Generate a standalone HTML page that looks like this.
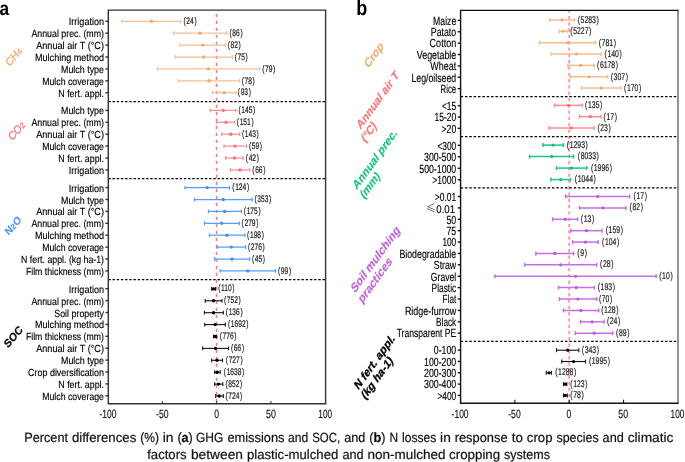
<!DOCTYPE html>
<html lang="en">
<head>
<meta charset="utf-8">
<title>Figure</title>
<style>
html,body{margin:0;padding:0;background:#fff;}
body{width:685px;height:462px;overflow:hidden;}
svg{display:block;}
text{font-family:"Liberation Sans",sans-serif;text-rendering:geometricPrecision;}
</style>
</head>
<body>
<svg width="685" height="462" viewBox="0 0 685 462" font-family='"Liberation Sans", sans-serif'>
<rect width="685" height="462" fill="#fff"/>
<line x1="216.6" y1="10.1" x2="216.6" y2="403.8" stroke="#ff7886" stroke-width="1.6" stroke-dasharray="3.4 3.6" stroke-dashoffset="3.4"/>
<line x1="108.3" y1="101.5" x2="325.6" y2="101.5" stroke="#000" stroke-width="1.25" stroke-dasharray="2.4 1.8"/>
<line x1="108.3" y1="178.6" x2="325.6" y2="178.6" stroke="#000" stroke-width="1.25" stroke-dasharray="2.4 1.8"/>
<line x1="108.3" y1="279.6" x2="325.6" y2="279.6" stroke="#000" stroke-width="1.25" stroke-dasharray="2.4 1.8"/>
<g stroke="#f7be90" stroke-width="1.25" fill="none"><line x1="122" y1="21.3" x2="180.9" y2="21.3"/><line x1="122" y1="19.400000000000002" x2="122" y2="23.2"/><line x1="180.9" y1="19.400000000000002" x2="180.9" y2="23.2"/></g>
<circle cx="151.4" cy="21.3" r="1.7" fill="#f3ab6b"/>
<text transform="translate(183.5,24.05) scale(0.7,1)" font-size="9.5" fill="#1a1a1a" stroke="#1a1a1a" stroke-width="0.2">(<tspan dx="0.9">24</tspan><tspan dx="0.9">)</tspan></text>
<g stroke="#f7be90" stroke-width="1.25" fill="none"><line x1="173.5" y1="33.2" x2="227" y2="33.2"/><line x1="173.5" y1="31.300000000000004" x2="173.5" y2="35.1"/><line x1="227" y1="31.300000000000004" x2="227" y2="35.1"/></g>
<circle cx="200" cy="33.2" r="1.7" fill="#f3ab6b"/>
<text transform="translate(229.5,35.95) scale(0.7,1)" font-size="9.5" fill="#1a1a1a" stroke="#1a1a1a" stroke-width="0.2">(<tspan dx="0.9">86</tspan><tspan dx="0.9">)</tspan></text>
<g stroke="#f7be90" stroke-width="1.25" fill="none"><line x1="180" y1="45.1" x2="225.5" y2="45.1"/><line x1="180" y1="43.2" x2="180" y2="47.0"/><line x1="225.5" y1="43.2" x2="225.5" y2="47.0"/></g>
<circle cx="202.8" cy="45.1" r="1.7" fill="#f3ab6b"/>
<text transform="translate(227.7,47.85) scale(0.7,1)" font-size="9.5" fill="#1a1a1a" stroke="#1a1a1a" stroke-width="0.2">(<tspan dx="0.9">82</tspan><tspan dx="0.9">)</tspan></text>
<g stroke="#f7be90" stroke-width="1.25" fill="none"><line x1="175" y1="57.0" x2="232.5" y2="57.0"/><line x1="175" y1="55.1" x2="175" y2="58.9"/><line x1="232.5" y1="55.1" x2="232.5" y2="58.9"/></g>
<circle cx="203.7" cy="57.0" r="1.7" fill="#f3ab6b"/>
<text transform="translate(234.7,59.75) scale(0.7,1)" font-size="9.5" fill="#1a1a1a" stroke="#1a1a1a" stroke-width="0.2">(<tspan dx="0.9">75</tspan><tspan dx="0.9">)</tspan></text>
<g stroke="#f7be90" stroke-width="1.25" fill="none"><line x1="157.5" y1="68.9" x2="259.7" y2="68.9"/><line x1="157.5" y1="67.0" x2="157.5" y2="70.80000000000001"/><line x1="259.7" y1="67.0" x2="259.7" y2="70.80000000000001"/></g>
<circle cx="208.5" cy="68.9" r="1.7" fill="#f3ab6b"/>
<text transform="translate(262.2,71.65) scale(0.7,1)" font-size="9.5" fill="#1a1a1a" stroke="#1a1a1a" stroke-width="0.2">(<tspan dx="0.9">79</tspan><tspan dx="0.9">)</tspan></text>
<g stroke="#f7be90" stroke-width="1.25" fill="none"><line x1="178.3" y1="80.8" x2="239.5" y2="80.8"/><line x1="178.3" y1="78.89999999999999" x2="178.3" y2="82.7"/><line x1="239.5" y1="78.89999999999999" x2="239.5" y2="82.7"/></g>
<circle cx="209" cy="80.8" r="1.7" fill="#f3ab6b"/>
<text transform="translate(241.7,83.55) scale(0.7,1)" font-size="9.5" fill="#1a1a1a" stroke="#1a1a1a" stroke-width="0.2">(<tspan dx="0.9">78</tspan><tspan dx="0.9">)</tspan></text>
<g stroke="#f7be90" stroke-width="1.25" fill="none"><line x1="212.3" y1="92.7" x2="236.2" y2="92.7"/><line x1="212.3" y1="90.8" x2="212.3" y2="94.60000000000001"/><line x1="236.2" y1="90.8" x2="236.2" y2="94.60000000000001"/></g>
<circle cx="224.2" cy="92.7" r="1.7" fill="#f3ab6b"/>
<text transform="translate(237.8,95.45) scale(0.7,1)" font-size="9.5" fill="#1a1a1a" stroke="#1a1a1a" stroke-width="0.2">(<tspan dx="0.9">93</tspan><tspan dx="0.9">)</tspan></text>
<g stroke="#ff8f8f" stroke-width="1.25" fill="none"><line x1="210.4" y1="110.4" x2="235.8" y2="110.4"/><line x1="210.4" y1="108.5" x2="210.4" y2="112.30000000000001"/><line x1="235.8" y1="108.5" x2="235.8" y2="112.30000000000001"/></g>
<circle cx="223.2" cy="110.4" r="1.7" fill="#ff7070"/>
<text transform="translate(238.5,113.15) scale(0.7,1)" font-size="9.5" fill="#1a1a1a" stroke="#1a1a1a" stroke-width="0.2">(<tspan dx="0.9">145</tspan><tspan dx="0.9">)</tspan></text>
<g stroke="#ff8f8f" stroke-width="1.25" fill="none"><line x1="216.7" y1="122.3" x2="234.8" y2="122.3"/><line x1="216.7" y1="120.39999999999999" x2="216.7" y2="124.2"/><line x1="234.8" y1="120.39999999999999" x2="234.8" y2="124.2"/></g>
<circle cx="226" cy="122.3" r="1.7" fill="#ff7070"/>
<text transform="translate(236.8,125.05) scale(0.7,1)" font-size="9.5" fill="#1a1a1a" stroke="#1a1a1a" stroke-width="0.2">(<tspan dx="0.9">151</tspan><tspan dx="0.9">)</tspan></text>
<g stroke="#ff8f8f" stroke-width="1.25" fill="none"><line x1="221.7" y1="134.2" x2="239.8" y2="134.2"/><line x1="221.7" y1="132.29999999999998" x2="221.7" y2="136.1"/><line x1="239.8" y1="132.29999999999998" x2="239.8" y2="136.1"/></g>
<circle cx="230.8" cy="134.2" r="1.7" fill="#ff7070"/>
<text transform="translate(242,136.95) scale(0.7,1)" font-size="9.5" fill="#1a1a1a" stroke="#1a1a1a" stroke-width="0.2">(<tspan dx="0.9">143</tspan><tspan dx="0.9">)</tspan></text>
<g stroke="#ff8f8f" stroke-width="1.25" fill="none"><line x1="224" y1="146.1" x2="246.6" y2="146.1"/><line x1="224" y1="144.2" x2="224" y2="148.0"/><line x1="246.6" y1="144.2" x2="246.6" y2="148.0"/></g>
<circle cx="235" cy="146.1" r="1.7" fill="#ff7070"/>
<text transform="translate(248.9,148.85) scale(0.7,1)" font-size="9.5" fill="#1a1a1a" stroke="#1a1a1a" stroke-width="0.2">(<tspan dx="0.9">59</tspan><tspan dx="0.9">)</tspan></text>
<g stroke="#ff8f8f" stroke-width="1.25" fill="none"><line x1="225.7" y1="158.0" x2="243.3" y2="158.0"/><line x1="225.7" y1="156.1" x2="225.7" y2="159.9"/><line x1="243.3" y1="156.1" x2="243.3" y2="159.9"/></g>
<circle cx="234.5" cy="158.0" r="1.7" fill="#ff7070"/>
<text transform="translate(245.8,160.75) scale(0.7,1)" font-size="9.5" fill="#1a1a1a" stroke="#1a1a1a" stroke-width="0.2">(<tspan dx="0.9">42</tspan><tspan dx="0.9">)</tspan></text>
<g stroke="#ff8f8f" stroke-width="1.25" fill="none"><line x1="230.5" y1="169.9" x2="249.8" y2="169.9"/><line x1="230.5" y1="168.0" x2="230.5" y2="171.8"/><line x1="249.8" y1="168.0" x2="249.8" y2="171.8"/></g>
<circle cx="240" cy="169.9" r="1.7" fill="#ff7070"/>
<text transform="translate(252.3,172.65) scale(0.7,1)" font-size="9.5" fill="#1a1a1a" stroke="#1a1a1a" stroke-width="0.2">(<tspan dx="0.9">66</tspan><tspan dx="0.9">)</tspan></text>
<g stroke="#559df8" stroke-width="1.25" fill="none"><line x1="185" y1="187.6" x2="229.5" y2="187.6"/><line x1="185" y1="185.7" x2="185" y2="189.5"/><line x1="229.5" y1="185.7" x2="229.5" y2="189.5"/></g>
<circle cx="207.2" cy="187.6" r="1.7" fill="#3f8ff6"/>
<text transform="translate(232.3,190.35) scale(0.7,1)" font-size="9.5" fill="#1a1a1a" stroke="#1a1a1a" stroke-width="0.2">(<tspan dx="0.9">124</tspan><tspan dx="0.9">)</tspan></text>
<g stroke="#559df8" stroke-width="1.25" fill="none"><line x1="194.6" y1="199.5" x2="252.1" y2="199.5"/><line x1="194.6" y1="197.6" x2="194.6" y2="201.4"/><line x1="252.1" y1="197.6" x2="252.1" y2="201.4"/></g>
<circle cx="223.2" cy="199.5" r="1.7" fill="#3f8ff6"/>
<text transform="translate(254.4,202.25) scale(0.7,1)" font-size="9.5" fill="#1a1a1a" stroke="#1a1a1a" stroke-width="0.2">(<tspan dx="0.9">353</tspan><tspan dx="0.9">)</tspan></text>
<g stroke="#559df8" stroke-width="1.25" fill="none"><line x1="208.4" y1="211.4" x2="241.3" y2="211.4"/><line x1="208.4" y1="209.5" x2="208.4" y2="213.3"/><line x1="241.3" y1="209.5" x2="241.3" y2="213.3"/></g>
<circle cx="224.7" cy="211.4" r="1.7" fill="#3f8ff6"/>
<text transform="translate(243.8,214.15) scale(0.7,1)" font-size="9.5" fill="#1a1a1a" stroke="#1a1a1a" stroke-width="0.2">(<tspan dx="0.9">175</tspan><tspan dx="0.9">)</tspan></text>
<g stroke="#559df8" stroke-width="1.25" fill="none"><line x1="204.4" y1="223.3" x2="239.3" y2="223.3"/><line x1="204.4" y1="221.4" x2="204.4" y2="225.20000000000002"/><line x1="239.3" y1="221.4" x2="239.3" y2="225.20000000000002"/></g>
<circle cx="221.7" cy="223.3" r="1.7" fill="#3f8ff6"/>
<text transform="translate(241.6,226.05) scale(0.7,1)" font-size="9.5" fill="#1a1a1a" stroke="#1a1a1a" stroke-width="0.2">(<tspan dx="0.9">279</tspan><tspan dx="0.9">)</tspan></text>
<g stroke="#559df8" stroke-width="1.25" fill="none"><line x1="209.4" y1="235.2" x2="244.9" y2="235.2"/><line x1="209.4" y1="233.29999999999998" x2="209.4" y2="237.1"/><line x1="244.9" y1="233.29999999999998" x2="244.9" y2="237.1"/></g>
<circle cx="227" cy="235.2" r="1.7" fill="#3f8ff6"/>
<text transform="translate(247.1,237.95) scale(0.7,1)" font-size="9.5" fill="#1a1a1a" stroke="#1a1a1a" stroke-width="0.2">(<tspan dx="0.9">198</tspan><tspan dx="0.9">)</tspan></text>
<g stroke="#559df8" stroke-width="1.25" fill="none"><line x1="217.2" y1="247.1" x2="245.6" y2="247.1"/><line x1="217.2" y1="245.2" x2="217.2" y2="249.0"/><line x1="245.6" y1="245.2" x2="245.6" y2="249.0"/></g>
<circle cx="231.3" cy="247.1" r="1.7" fill="#3f8ff6"/>
<text transform="translate(247.9,249.85) scale(0.7,1)" font-size="9.5" fill="#1a1a1a" stroke="#1a1a1a" stroke-width="0.2">(<tspan dx="0.9">276</tspan><tspan dx="0.9">)</tspan></text>
<g stroke="#559df8" stroke-width="1.25" fill="none"><line x1="214.7" y1="259.0" x2="249.6" y2="259.0"/><line x1="214.7" y1="257.1" x2="214.7" y2="260.9"/><line x1="249.6" y1="257.1" x2="249.6" y2="260.9"/></g>
<circle cx="232" cy="259.0" r="1.7" fill="#3f8ff6"/>
<text transform="translate(251.9,261.75) scale(0.7,1)" font-size="9.5" fill="#1a1a1a" stroke="#1a1a1a" stroke-width="0.2">(<tspan dx="0.9">45</tspan><tspan dx="0.9">)</tspan></text>
<g stroke="#559df8" stroke-width="1.25" fill="none"><line x1="220.2" y1="270.9" x2="275.5" y2="270.9"/><line x1="220.2" y1="269.0" x2="220.2" y2="272.79999999999995"/><line x1="275.5" y1="269.0" x2="275.5" y2="272.79999999999995"/></g>
<circle cx="247.9" cy="270.9" r="1.7" fill="#3f8ff6"/>
<text transform="translate(278,273.65) scale(0.7,1)" font-size="9.5" fill="#1a1a1a" stroke="#1a1a1a" stroke-width="0.2">(<tspan dx="0.9">99</tspan><tspan dx="0.9">)</tspan></text>
<g stroke="#111" stroke-width="1.1" fill="none"><line x1="211.7" y1="288.9" x2="215.5" y2="288.9"/><line x1="211.7" y1="287.0" x2="211.7" y2="290.79999999999995"/><line x1="215.5" y1="287.0" x2="215.5" y2="290.79999999999995"/></g>
<circle cx="213.5" cy="288.9" r="1.7" fill="#000"/>
<text transform="translate(218.2,291.45) scale(0.7,1)" font-size="9.5" fill="#1a1a1a" stroke="#1a1a1a" stroke-width="0.2">(<tspan dx="0.9">110</tspan><tspan dx="0.9">)</tspan></text>
<g stroke="#111" stroke-width="1.1" fill="none"><line x1="205.2" y1="300.8" x2="222" y2="300.8"/><line x1="205.2" y1="298.90000000000003" x2="205.2" y2="302.7"/><line x1="222" y1="298.90000000000003" x2="222" y2="302.7"/></g>
<circle cx="213.5" cy="300.8" r="1.7" fill="#000"/>
<text transform="translate(224,303.35) scale(0.7,1)" font-size="9.5" fill="#1a1a1a" stroke="#1a1a1a" stroke-width="0.2">(<tspan dx="0.9">752</tspan><tspan dx="0.9">)</tspan></text>
<g stroke="#111" stroke-width="1.1" fill="none"><line x1="204.4" y1="312.7" x2="223.3" y2="312.7"/><line x1="204.4" y1="310.8" x2="204.4" y2="314.59999999999997"/><line x1="223.3" y1="310.8" x2="223.3" y2="314.59999999999997"/></g>
<circle cx="213.5" cy="312.7" r="1.7" fill="#000"/>
<text transform="translate(225.8,315.25) scale(0.7,1)" font-size="9.5" fill="#1a1a1a" stroke="#1a1a1a" stroke-width="0.2">(<tspan dx="0.9">136</tspan><tspan dx="0.9">)</tspan></text>
<g stroke="#111" stroke-width="1.1" fill="none"><line x1="204.7" y1="324.59999999999997" x2="225.3" y2="324.59999999999997"/><line x1="204.7" y1="322.7" x2="204.7" y2="326.49999999999994"/><line x1="225.3" y1="322.7" x2="225.3" y2="326.49999999999994"/></g>
<circle cx="215.2" cy="324.59999999999997" r="1.7" fill="#000"/>
<text transform="translate(228,327.15) scale(0.7,1)" font-size="9.5" fill="#1a1a1a" stroke="#1a1a1a" stroke-width="0.2">(<tspan dx="0.9">1692</tspan><tspan dx="0.9">)</tspan></text>
<g stroke="#111" stroke-width="1.1" fill="none"><line x1="213.5" y1="336.5" x2="216.7" y2="336.5"/><line x1="213.5" y1="334.6" x2="213.5" y2="338.4"/><line x1="216.7" y1="334.6" x2="216.7" y2="338.4"/></g>
<circle cx="215" cy="336.5" r="1.7" fill="#000"/>
<text transform="translate(219.7,339.05) scale(0.7,1)" font-size="9.5" fill="#1a1a1a" stroke="#1a1a1a" stroke-width="0.2">(<tspan dx="0.9">776</tspan><tspan dx="0.9">)</tspan></text>
<g stroke="#111" stroke-width="1.1" fill="none"><line x1="202.7" y1="348.4" x2="228.5" y2="348.4"/><line x1="202.7" y1="346.5" x2="202.7" y2="350.29999999999995"/><line x1="228.5" y1="346.5" x2="228.5" y2="350.29999999999995"/></g>
<circle cx="215.5" cy="348.4" r="1.7" fill="#000"/>
<text transform="translate(231,350.95) scale(0.7,1)" font-size="9.5" fill="#1a1a1a" stroke="#1a1a1a" stroke-width="0.2">(<tspan dx="0.9">66</tspan><tspan dx="0.9">)</tspan></text>
<g stroke="#111" stroke-width="1.1" fill="none"><line x1="211.7" y1="360.3" x2="222.5" y2="360.3"/><line x1="211.7" y1="358.40000000000003" x2="211.7" y2="362.2"/><line x1="222.5" y1="358.40000000000003" x2="222.5" y2="362.2"/></g>
<circle cx="217" cy="360.3" r="1.7" fill="#000"/>
<text transform="translate(225.8,362.85) scale(0.7,1)" font-size="9.5" fill="#1a1a1a" stroke="#1a1a1a" stroke-width="0.2">(<tspan dx="0.9">727</tspan><tspan dx="0.9">)</tspan></text>
<g stroke="#111" stroke-width="1.1" fill="none"><line x1="214.7" y1="372.2" x2="220.2" y2="372.2"/><line x1="214.7" y1="370.3" x2="214.7" y2="374.09999999999997"/><line x1="220.2" y1="370.3" x2="220.2" y2="374.09999999999997"/></g>
<circle cx="217.2" cy="372.2" r="1.7" fill="#000"/>
<text transform="translate(223.8,374.75) scale(0.7,1)" font-size="9.5" fill="#1a1a1a" stroke="#1a1a1a" stroke-width="0.2">(<tspan dx="0.9">1638</tspan><tspan dx="0.9">)</tspan></text>
<g stroke="#111" stroke-width="1.1" fill="none"><line x1="214.7" y1="384.09999999999997" x2="222.8" y2="384.09999999999997"/><line x1="214.7" y1="382.2" x2="214.7" y2="385.99999999999994"/><line x1="222.8" y1="382.2" x2="222.8" y2="385.99999999999994"/></g>
<circle cx="218.5" cy="384.09999999999997" r="1.7" fill="#000"/>
<text transform="translate(225.5,386.65) scale(0.7,1)" font-size="9.5" fill="#1a1a1a" stroke="#1a1a1a" stroke-width="0.2">(<tspan dx="0.9">852</tspan><tspan dx="0.9">)</tspan></text>
<g stroke="#111" stroke-width="1.1" fill="none"><line x1="215.7" y1="396.0" x2="223.3" y2="396.0"/><line x1="215.7" y1="394.1" x2="215.7" y2="397.9"/><line x1="223.3" y1="394.1" x2="223.3" y2="397.9"/></g>
<circle cx="219.2" cy="396.0" r="1.7" fill="#000"/>
<text transform="translate(225.5,398.55) scale(0.7,1)" font-size="9.5" fill="#1a1a1a" stroke="#1a1a1a" stroke-width="0.2">(<tspan dx="0.9">724</tspan><tspan dx="0.9">)</tspan></text>
<path d="M325.6 10.1 H108.3 V403.8 H325.6" fill="none" stroke="#333" stroke-width="1.4" stroke-linecap="square"/>
<line x1="325.6" y1="10.1" x2="325.6" y2="403.8" stroke="#333" stroke-width="1.4"/>
<line x1="105.39999999999999" y1="21.3" x2="108.3" y2="21.3" stroke="#333" stroke-width="1.4"/>
<text x="68.80" y="25.35" textLength="35.2" lengthAdjust="spacingAndGlyphs" font-size="10.3" fill="#000" stroke="#000" stroke-width="0.15">Irrigation</text>
<line x1="105.39999999999999" y1="33.2" x2="108.3" y2="33.2" stroke="#333" stroke-width="1.4"/>
<text x="31.40" y="37.25" textLength="72.6" lengthAdjust="spacingAndGlyphs" font-size="10.3" fill="#000" stroke="#000" stroke-width="0.15">Annual prec. (mm)</text>
<line x1="105.39999999999999" y1="45.1" x2="108.3" y2="45.1" stroke="#333" stroke-width="1.4"/>
<text x="36.20" y="49.15" textLength="67.8" lengthAdjust="spacingAndGlyphs" font-size="10.3" fill="#000" stroke="#000" stroke-width="0.15">Annual air T (°C)</text>
<line x1="105.39999999999999" y1="57.0" x2="108.3" y2="57.0" stroke="#333" stroke-width="1.4"/>
<text x="35.00" y="61.05" textLength="69" lengthAdjust="spacingAndGlyphs" font-size="10.3" fill="#000" stroke="#000" stroke-width="0.15">Mulching method</text>
<line x1="105.39999999999999" y1="68.9" x2="108.3" y2="68.9" stroke="#333" stroke-width="1.4"/>
<text x="61.00" y="72.95" textLength="43" lengthAdjust="spacingAndGlyphs" font-size="10.3" fill="#000" stroke="#000" stroke-width="0.15">Mulch type</text>
<line x1="105.39999999999999" y1="80.8" x2="108.3" y2="80.8" stroke="#333" stroke-width="1.4"/>
<text x="42.20" y="84.85" textLength="61.8" lengthAdjust="spacingAndGlyphs" font-size="10.3" fill="#000" stroke="#000" stroke-width="0.15">Mulch coverage</text>
<line x1="105.39999999999999" y1="92.7" x2="108.3" y2="92.7" stroke="#333" stroke-width="1.4"/>
<text x="58.30" y="96.75" textLength="45.7" lengthAdjust="spacingAndGlyphs" font-size="10.3" fill="#000" stroke="#000" stroke-width="0.15">N fert. appl.</text>
<line x1="105.39999999999999" y1="110.4" x2="108.3" y2="110.4" stroke="#333" stroke-width="1.4"/>
<text x="61.00" y="114.45" textLength="43" lengthAdjust="spacingAndGlyphs" font-size="10.3" fill="#000" stroke="#000" stroke-width="0.15">Mulch type</text>
<line x1="105.39999999999999" y1="122.3" x2="108.3" y2="122.3" stroke="#333" stroke-width="1.4"/>
<text x="31.40" y="126.35" textLength="72.6" lengthAdjust="spacingAndGlyphs" font-size="10.3" fill="#000" stroke="#000" stroke-width="0.15">Annual prec. (mm)</text>
<line x1="105.39999999999999" y1="134.2" x2="108.3" y2="134.2" stroke="#333" stroke-width="1.4"/>
<text x="36.20" y="138.25" textLength="67.8" lengthAdjust="spacingAndGlyphs" font-size="10.3" fill="#000" stroke="#000" stroke-width="0.15">Annual air T (°C)</text>
<line x1="105.39999999999999" y1="146.1" x2="108.3" y2="146.1" stroke="#333" stroke-width="1.4"/>
<text x="42.20" y="150.15" textLength="61.8" lengthAdjust="spacingAndGlyphs" font-size="10.3" fill="#000" stroke="#000" stroke-width="0.15">Mulch coverage</text>
<line x1="105.39999999999999" y1="158.0" x2="108.3" y2="158.0" stroke="#333" stroke-width="1.4"/>
<text x="58.30" y="162.05" textLength="45.7" lengthAdjust="spacingAndGlyphs" font-size="10.3" fill="#000" stroke="#000" stroke-width="0.15">N fert. appl.</text>
<line x1="105.39999999999999" y1="169.9" x2="108.3" y2="169.9" stroke="#333" stroke-width="1.4"/>
<text x="68.80" y="173.95" textLength="35.2" lengthAdjust="spacingAndGlyphs" font-size="10.3" fill="#000" stroke="#000" stroke-width="0.15">Irrigation</text>
<line x1="105.39999999999999" y1="187.6" x2="108.3" y2="187.6" stroke="#333" stroke-width="1.4"/>
<text x="68.80" y="191.65" textLength="35.2" lengthAdjust="spacingAndGlyphs" font-size="10.3" fill="#000" stroke="#000" stroke-width="0.15">Irrigation</text>
<line x1="105.39999999999999" y1="199.5" x2="108.3" y2="199.5" stroke="#333" stroke-width="1.4"/>
<text x="61.00" y="203.55" textLength="43" lengthAdjust="spacingAndGlyphs" font-size="10.3" fill="#000" stroke="#000" stroke-width="0.15">Mulch type</text>
<line x1="105.39999999999999" y1="211.4" x2="108.3" y2="211.4" stroke="#333" stroke-width="1.4"/>
<text x="36.20" y="215.45" textLength="67.8" lengthAdjust="spacingAndGlyphs" font-size="10.3" fill="#000" stroke="#000" stroke-width="0.15">Annual air T (°C)</text>
<line x1="105.39999999999999" y1="223.3" x2="108.3" y2="223.3" stroke="#333" stroke-width="1.4"/>
<text x="31.40" y="227.35" textLength="72.6" lengthAdjust="spacingAndGlyphs" font-size="10.3" fill="#000" stroke="#000" stroke-width="0.15">Annual prec. (mm)</text>
<line x1="105.39999999999999" y1="235.2" x2="108.3" y2="235.2" stroke="#333" stroke-width="1.4"/>
<text x="35.00" y="239.25" textLength="69" lengthAdjust="spacingAndGlyphs" font-size="10.3" fill="#000" stroke="#000" stroke-width="0.15">Mulching method</text>
<line x1="105.39999999999999" y1="247.1" x2="108.3" y2="247.1" stroke="#333" stroke-width="1.4"/>
<text x="42.20" y="251.15" textLength="61.8" lengthAdjust="spacingAndGlyphs" font-size="10.3" fill="#000" stroke="#000" stroke-width="0.15">Mulch coverage</text>
<line x1="105.39999999999999" y1="259.0" x2="108.3" y2="259.0" stroke="#333" stroke-width="1.4"/>
<text x="21.10" y="263.05" textLength="82.9" lengthAdjust="spacingAndGlyphs" font-size="10.3" fill="#000" stroke="#000" stroke-width="0.15">N fert. appl. (kg ha-1)</text>
<line x1="105.39999999999999" y1="270.9" x2="108.3" y2="270.9" stroke="#333" stroke-width="1.4"/>
<text x="25.90" y="274.95" textLength="78.1" lengthAdjust="spacingAndGlyphs" font-size="10.3" fill="#000" stroke="#000" stroke-width="0.15">Film thickness (mm)</text>
<line x1="105.39999999999999" y1="288.7" x2="108.3" y2="288.7" stroke="#333" stroke-width="1.4"/>
<text x="68.80" y="292.75" textLength="35.2" lengthAdjust="spacingAndGlyphs" font-size="10.3" fill="#000" stroke="#000" stroke-width="0.15">Irrigation</text>
<line x1="105.39999999999999" y1="300.6" x2="108.3" y2="300.6" stroke="#333" stroke-width="1.4"/>
<text x="31.40" y="304.65" textLength="72.6" lengthAdjust="spacingAndGlyphs" font-size="10.3" fill="#000" stroke="#000" stroke-width="0.15">Annual prec. (mm)</text>
<line x1="105.39999999999999" y1="312.5" x2="108.3" y2="312.5" stroke="#333" stroke-width="1.4"/>
<text x="54.30" y="316.55" textLength="49.7" lengthAdjust="spacingAndGlyphs" font-size="10.3" fill="#000" stroke="#000" stroke-width="0.15">Soil property</text>
<line x1="105.39999999999999" y1="324.4" x2="108.3" y2="324.4" stroke="#333" stroke-width="1.4"/>
<text x="35.00" y="328.45" textLength="69" lengthAdjust="spacingAndGlyphs" font-size="10.3" fill="#000" stroke="#000" stroke-width="0.15">Mulching method</text>
<line x1="105.39999999999999" y1="336.3" x2="108.3" y2="336.3" stroke="#333" stroke-width="1.4"/>
<text x="25.90" y="340.35" textLength="78.1" lengthAdjust="spacingAndGlyphs" font-size="10.3" fill="#000" stroke="#000" stroke-width="0.15">Film thickness (mm)</text>
<line x1="105.39999999999999" y1="348.2" x2="108.3" y2="348.2" stroke="#333" stroke-width="1.4"/>
<text x="36.20" y="352.25" textLength="67.8" lengthAdjust="spacingAndGlyphs" font-size="10.3" fill="#000" stroke="#000" stroke-width="0.15">Annual air T (°C)</text>
<line x1="105.39999999999999" y1="360.1" x2="108.3" y2="360.1" stroke="#333" stroke-width="1.4"/>
<text x="61.00" y="364.15" textLength="43" lengthAdjust="spacingAndGlyphs" font-size="10.3" fill="#000" stroke="#000" stroke-width="0.15">Mulch type</text>
<line x1="105.39999999999999" y1="372.0" x2="108.3" y2="372.0" stroke="#333" stroke-width="1.4"/>
<text x="28.10" y="376.05" textLength="75.9" lengthAdjust="spacingAndGlyphs" font-size="10.3" fill="#000" stroke="#000" stroke-width="0.15">Crop diversification</text>
<line x1="105.39999999999999" y1="383.9" x2="108.3" y2="383.9" stroke="#333" stroke-width="1.4"/>
<text x="58.30" y="387.95" textLength="45.7" lengthAdjust="spacingAndGlyphs" font-size="10.3" fill="#000" stroke="#000" stroke-width="0.15">N fert. appl.</text>
<line x1="105.39999999999999" y1="395.8" x2="108.3" y2="395.8" stroke="#333" stroke-width="1.4"/>
<text x="42.20" y="399.85" textLength="61.8" lengthAdjust="spacingAndGlyphs" font-size="10.3" fill="#000" stroke="#000" stroke-width="0.15">Mulch coverage</text>
<text x="99.45" y="418.2" textLength="17.0" lengthAdjust="spacingAndGlyphs" font-size="12" fill="#111" stroke="#111" stroke-width="0.15">-100</text>
<line x1="162.27499999999998" y1="403.8" x2="162.27499999999998" y2="401.2" stroke="#333" stroke-width="1.1199999999999999"/>
<text x="156.07" y="418.2" textLength="12.4" lengthAdjust="spacingAndGlyphs" font-size="12" fill="#111" stroke="#111" stroke-width="0.15">-50</text>
<line x1="216.6" y1="403.8" x2="216.6" y2="401.2" stroke="#333" stroke-width="1.1199999999999999"/>
<text x="214.20" y="418.2" textLength="4.8" lengthAdjust="spacingAndGlyphs" font-size="12" fill="#111" stroke="#111" stroke-width="0.15">0</text>
<line x1="270.925" y1="403.8" x2="270.925" y2="401.2" stroke="#333" stroke-width="1.1199999999999999"/>
<text x="266.03" y="418.2" textLength="9.8" lengthAdjust="spacingAndGlyphs" font-size="12" fill="#111" stroke="#111" stroke-width="0.15">50</text>
<text x="318.35" y="418.2" textLength="13.8" lengthAdjust="spacingAndGlyphs" font-size="12" fill="#111" stroke="#111" stroke-width="0.15">100</text>
<line x1="569.2" y1="10.4" x2="569.2" y2="403.3" stroke="#ff9aa0" stroke-width="1.9" stroke-dasharray="3.3 3.0" stroke-dashoffset="0.7"/>
<line x1="460.6" y1="96.6" x2="678.0" y2="96.6" stroke="#000" stroke-width="1.25" stroke-dasharray="2.5 1.85"/>
<line x1="460.6" y1="136.65" x2="678.0" y2="136.65" stroke="#000" stroke-width="1.25" stroke-dasharray="2.5 1.85"/>
<line x1="460.6" y1="187.9" x2="678.0" y2="187.9" stroke="#000" stroke-width="1.25" stroke-dasharray="2.5 1.85"/>
<line x1="460.6" y1="341.45" x2="678.0" y2="341.45" stroke="#000" stroke-width="1.25" stroke-dasharray="2.5 1.85"/>
<g stroke="#f7be90" stroke-width="1.5" fill="none"><line x1="549.7" y1="19.9" x2="574.3" y2="19.9"/><line x1="549.7" y1="17.9" x2="549.7" y2="21.9"/><line x1="574.3" y1="17.9" x2="574.3" y2="21.9"/></g>
<circle cx="562" cy="19.9" r="1.6" fill="#f3ab6b"/>
<text transform="translate(577.7,22.95) scale(0.7,1)" font-size="9.8" fill="#1a1a1a" stroke="#1a1a1a" stroke-width="0.2">(<tspan dx="0.9">5283</tspan><tspan dx="0.9">)</tspan></text>
<g stroke="#f7be90" stroke-width="1.5" fill="none"><line x1="559.2" y1="31.27" x2="567" y2="31.27"/><line x1="559.2" y1="29.27" x2="559.2" y2="33.269999999999996"/><line x1="567" y1="29.27" x2="567" y2="33.269999999999996"/></g>
<circle cx="563" cy="31.27" r="1.6" fill="#f3ab6b"/>
<text transform="translate(570.3,34.32) scale(0.7,1)" font-size="9.8" fill="#1a1a1a" stroke="#1a1a1a" stroke-width="0.2">(<tspan dx="0.9">5227</tspan><tspan dx="0.9">)</tspan></text>
<g stroke="#f7be90" stroke-width="1.5" fill="none"><line x1="539.6" y1="42.64" x2="595.4" y2="42.64"/><line x1="539.6" y1="40.64" x2="539.6" y2="44.64"/><line x1="595.4" y1="40.64" x2="595.4" y2="44.64"/></g>
<circle cx="568" cy="42.64" r="1.6" fill="#f3ab6b"/>
<text transform="translate(598.7,45.69) scale(0.7,1)" font-size="9.8" fill="#1a1a1a" stroke="#1a1a1a" stroke-width="0.2">(<tspan dx="0.9">781</tspan><tspan dx="0.9">)</tspan></text>
<g stroke="#f7be90" stroke-width="1.5" fill="none"><line x1="551.4" y1="54.01" x2="601" y2="54.01"/><line x1="551.4" y1="52.01" x2="551.4" y2="56.01"/><line x1="601" y1="52.01" x2="601" y2="56.01"/></g>
<circle cx="576.3" cy="54.01" r="1.6" fill="#f3ab6b"/>
<text transform="translate(604.5,57.06) scale(0.7,1)" font-size="9.8" fill="#1a1a1a" stroke="#1a1a1a" stroke-width="0.2">(<tspan dx="0.9">140</tspan><tspan dx="0.9">)</tspan></text>
<g stroke="#f7be90" stroke-width="1.5" fill="none"><line x1="567.8" y1="65.38" x2="594.2" y2="65.38"/><line x1="567.8" y1="63.379999999999995" x2="567.8" y2="67.38"/><line x1="594.2" y1="63.379999999999995" x2="594.2" y2="67.38"/></g>
<circle cx="580.8" cy="65.38" r="1.6" fill="#f3ab6b"/>
<text transform="translate(597,68.43) scale(0.7,1)" font-size="9.8" fill="#1a1a1a" stroke="#1a1a1a" stroke-width="0.2">(<tspan dx="0.9">6178</tspan><tspan dx="0.9">)</tspan></text>
<g stroke="#f7be90" stroke-width="1.5" fill="none"><line x1="570.3" y1="76.75" x2="607.6" y2="76.75"/><line x1="570.3" y1="74.75" x2="570.3" y2="78.75"/><line x1="607.6" y1="74.75" x2="607.6" y2="78.75"/></g>
<circle cx="589.1" cy="76.75" r="1.6" fill="#f3ab6b"/>
<text transform="translate(610.7,79.80) scale(0.7,1)" font-size="9.8" fill="#1a1a1a" stroke="#1a1a1a" stroke-width="0.2">(<tspan dx="0.9">307</tspan><tspan dx="0.9">)</tspan></text>
<g stroke="#f7be90" stroke-width="1.5" fill="none"><line x1="582" y1="88.12" x2="620.8" y2="88.12"/><line x1="582" y1="86.12" x2="582" y2="90.12"/><line x1="620.8" y1="86.12" x2="620.8" y2="90.12"/></g>
<circle cx="601.4" cy="88.12" r="1.6" fill="#f3ab6b"/>
<text transform="translate(624,91.17) scale(0.7,1)" font-size="9.8" fill="#1a1a1a" stroke="#1a1a1a" stroke-width="0.2">(<tspan dx="0.9">170</tspan><tspan dx="0.9">)</tspan></text>
<g stroke="#ff8f8f" stroke-width="1.5" fill="none"><line x1="554.7" y1="105.35" x2="582.3" y2="105.35"/><line x1="554.7" y1="103.35" x2="554.7" y2="107.35"/><line x1="582.3" y1="103.35" x2="582.3" y2="107.35"/></g>
<circle cx="568.5" cy="105.35" r="1.6" fill="#ff7070"/>
<text transform="translate(585.1,108.30) scale(0.7,1)" font-size="9.8" fill="#1a1a1a" stroke="#1a1a1a" stroke-width="0.2">(<tspan dx="0.9">135</tspan><tspan dx="0.9">)</tspan></text>
<g stroke="#ff8f8f" stroke-width="1.5" fill="none"><line x1="579.6" y1="116.64999999999999" x2="601" y2="116.64999999999999"/><line x1="579.6" y1="114.64999999999999" x2="579.6" y2="118.64999999999999"/><line x1="601" y1="114.64999999999999" x2="601" y2="118.64999999999999"/></g>
<circle cx="590.4" cy="116.64999999999999" r="1.6" fill="#ff7070"/>
<text transform="translate(603.6,119.60) scale(0.7,1)" font-size="9.8" fill="#1a1a1a" stroke="#1a1a1a" stroke-width="0.2">(<tspan dx="0.9">17</tspan><tspan dx="0.9">)</tspan></text>
<g stroke="#ff8f8f" stroke-width="1.5" fill="none"><line x1="549.2" y1="127.94999999999999" x2="594" y2="127.94999999999999"/><line x1="549.2" y1="125.94999999999999" x2="549.2" y2="129.95"/><line x1="594" y1="125.94999999999999" x2="594" y2="129.95"/></g>
<circle cx="571.3" cy="127.94999999999999" r="1.6" fill="#ff7070"/>
<text transform="translate(597.4,130.90) scale(0.7,1)" font-size="9.8" fill="#1a1a1a" stroke="#1a1a1a" stroke-width="0.2">(<tspan dx="0.9">23</tspan><tspan dx="0.9">)</tspan></text>
<g stroke="#1bc884" stroke-width="1.5" fill="none"><line x1="542.9" y1="145.10000000000002" x2="563.5" y2="145.10000000000002"/><line x1="542.9" y1="143.10000000000002" x2="542.9" y2="147.10000000000002"/><line x1="563.5" y1="143.10000000000002" x2="563.5" y2="147.10000000000002"/></g>
<circle cx="553.2" cy="145.10000000000002" r="1.6" fill="#0cc078"/>
<text transform="translate(566.8,147.85) scale(0.7,1)" font-size="9.8" fill="#1a1a1a" stroke="#1a1a1a" stroke-width="0.2">(<tspan dx="0.9">1293</tspan><tspan dx="0.9">)</tspan></text>
<g stroke="#1bc884" stroke-width="1.5" fill="none"><line x1="529.6" y1="156.60000000000002" x2="573.6" y2="156.60000000000002"/><line x1="529.6" y1="154.60000000000002" x2="529.6" y2="158.60000000000002"/><line x1="573.6" y1="154.60000000000002" x2="573.6" y2="158.60000000000002"/></g>
<circle cx="551.7" cy="156.60000000000002" r="1.6" fill="#0cc078"/>
<text transform="translate(577.8,159.35) scale(0.7,1)" font-size="9.8" fill="#1a1a1a" stroke="#1a1a1a" stroke-width="0.2">(<tspan dx="0.9">8033</tspan><tspan dx="0.9">)</tspan></text>
<g stroke="#1bc884" stroke-width="1.5" fill="none"><line x1="556.5" y1="168.10000000000002" x2="586.9" y2="168.10000000000002"/><line x1="556.5" y1="166.10000000000002" x2="556.5" y2="170.10000000000002"/><line x1="586.9" y1="166.10000000000002" x2="586.9" y2="170.10000000000002"/></g>
<circle cx="571.5" cy="168.10000000000002" r="1.6" fill="#0cc078"/>
<text transform="translate(590.9,170.85) scale(0.7,1)" font-size="9.8" fill="#1a1a1a" stroke="#1a1a1a" stroke-width="0.2">(<tspan dx="0.9">1996</tspan><tspan dx="0.9">)</tspan></text>
<g stroke="#1bc884" stroke-width="1.5" fill="none"><line x1="551" y1="179.60000000000002" x2="570.5" y2="179.60000000000002"/><line x1="551" y1="177.60000000000002" x2="551" y2="181.60000000000002"/><line x1="570.5" y1="177.60000000000002" x2="570.5" y2="181.60000000000002"/></g>
<circle cx="560.7" cy="179.60000000000002" r="1.6" fill="#0cc078"/>
<text transform="translate(574.8,182.35) scale(0.7,1)" font-size="9.8" fill="#1a1a1a" stroke="#1a1a1a" stroke-width="0.2">(<tspan dx="0.9">1044</tspan><tspan dx="0.9">)</tspan></text>
<g stroke="#c76fe8" stroke-width="1.5" fill="none"><line x1="565.5" y1="196.5" x2="629.6" y2="196.5"/><line x1="565.5" y1="194.5" x2="565.5" y2="198.5"/><line x1="629.6" y1="194.5" x2="629.6" y2="198.5"/></g>
<circle cx="597.7" cy="196.5" r="1.6" fill="#bb57e2"/>
<text transform="translate(633.6,199.05) scale(0.7,1)" font-size="9.8" fill="#1a1a1a" stroke="#1a1a1a" stroke-width="0.2">(<tspan dx="0.9">17</tspan><tspan dx="0.9">)</tspan></text>
<g stroke="#c76fe8" stroke-width="1.5" fill="none"><line x1="579.6" y1="207.89" x2="625.8" y2="207.89"/><line x1="579.6" y1="205.89" x2="579.6" y2="209.89"/><line x1="625.8" y1="205.89" x2="625.8" y2="209.89"/></g>
<circle cx="603" cy="207.89" r="1.6" fill="#bb57e2"/>
<text transform="translate(629.6,210.44) scale(0.7,1)" font-size="9.8" fill="#1a1a1a" stroke="#1a1a1a" stroke-width="0.2">(<tspan dx="0.9">82</tspan><tspan dx="0.9">)</tspan></text>
<g stroke="#c76fe8" stroke-width="1.5" fill="none"><line x1="552.7" y1="219.28" x2="577.6" y2="219.28"/><line x1="552.7" y1="217.28" x2="552.7" y2="221.28"/><line x1="577.6" y1="217.28" x2="577.6" y2="221.28"/></g>
<circle cx="565.3" cy="219.28" r="1.6" fill="#bb57e2"/>
<text transform="translate(580.8,221.83) scale(0.7,1)" font-size="9.8" fill="#1a1a1a" stroke="#1a1a1a" stroke-width="0.2">(<tspan dx="0.9">13</tspan><tspan dx="0.9">)</tspan></text>
<g stroke="#c76fe8" stroke-width="1.5" fill="none"><line x1="570.8" y1="230.67" x2="602" y2="230.67"/><line x1="570.8" y1="228.67" x2="570.8" y2="232.67"/><line x1="602" y1="228.67" x2="602" y2="232.67"/></g>
<circle cx="586.4" cy="230.67" r="1.6" fill="#bb57e2"/>
<text transform="translate(605.7,233.22) scale(0.7,1)" font-size="9.8" fill="#1a1a1a" stroke="#1a1a1a" stroke-width="0.2">(<tspan dx="0.9">159</tspan><tspan dx="0.9">)</tspan></text>
<g stroke="#c76fe8" stroke-width="1.5" fill="none"><line x1="572.6" y1="242.06" x2="598.2" y2="242.06"/><line x1="572.6" y1="240.06" x2="572.6" y2="244.06"/><line x1="598.2" y1="240.06" x2="598.2" y2="244.06"/></g>
<circle cx="585.4" cy="242.06" r="1.6" fill="#bb57e2"/>
<text transform="translate(602,244.61) scale(0.7,1)" font-size="9.8" fill="#1a1a1a" stroke="#1a1a1a" stroke-width="0.2">(<tspan dx="0.9">104</tspan><tspan dx="0.9">)</tspan></text>
<g stroke="#c76fe8" stroke-width="1.5" fill="none"><line x1="535.9" y1="253.45" x2="573.6" y2="253.45"/><line x1="535.9" y1="251.45" x2="535.9" y2="255.45"/><line x1="573.6" y1="251.45" x2="573.6" y2="255.45"/></g>
<circle cx="554.7" cy="253.45" r="1.6" fill="#bb57e2"/>
<text transform="translate(577.3,256.00) scale(0.7,1)" font-size="9.8" fill="#1a1a1a" stroke="#1a1a1a" stroke-width="0.2">(<tspan dx="0.9">9</tspan><tspan dx="0.9">)</tspan></text>
<g stroke="#c76fe8" stroke-width="1.5" fill="none"><line x1="524.6" y1="264.84" x2="596.7" y2="264.84"/><line x1="524.6" y1="262.84" x2="524.6" y2="266.84"/><line x1="596.7" y1="262.84" x2="596.7" y2="266.84"/></g>
<circle cx="560.7" cy="264.84" r="1.6" fill="#bb57e2"/>
<text transform="translate(600,267.39) scale(0.7,1)" font-size="9.8" fill="#1a1a1a" stroke="#1a1a1a" stroke-width="0.2">(<tspan dx="0.9">28</tspan><tspan dx="0.9">)</tspan></text>
<g stroke="#c76fe8" stroke-width="1.5" fill="none"><line x1="495" y1="276.23" x2="656.2" y2="276.23"/><line x1="495" y1="274.23" x2="495" y2="278.23"/><line x1="656.2" y1="274.23" x2="656.2" y2="278.23"/></g>
<circle cx="575.6" cy="276.23" r="1.6" fill="#bb57e2"/>
<text transform="translate(659.2,278.78) scale(0.7,1)" font-size="9.8" fill="#1a1a1a" stroke="#1a1a1a" stroke-width="0.2">(<tspan dx="0.9">10</tspan><tspan dx="0.9">)</tspan></text>
<g stroke="#c76fe8" stroke-width="1.5" fill="none"><line x1="558.5" y1="287.62" x2="594.4" y2="287.62"/><line x1="558.5" y1="285.62" x2="558.5" y2="289.62"/><line x1="594.4" y1="285.62" x2="594.4" y2="289.62"/></g>
<circle cx="576.3" cy="287.62" r="1.6" fill="#bb57e2"/>
<text transform="translate(597.7,290.17) scale(0.7,1)" font-size="9.8" fill="#1a1a1a" stroke="#1a1a1a" stroke-width="0.2">(<tspan dx="0.9">193</tspan><tspan dx="0.9">)</tspan></text>
<g stroke="#c76fe8" stroke-width="1.5" fill="none"><line x1="559.5" y1="299.01" x2="596.7" y2="299.01"/><line x1="559.5" y1="297.01" x2="559.5" y2="301.01"/><line x1="596.7" y1="297.01" x2="596.7" y2="301.01"/></g>
<circle cx="577.8" cy="299.01" r="1.6" fill="#bb57e2"/>
<text transform="translate(598.9,301.56) scale(0.7,1)" font-size="9.8" fill="#1a1a1a" stroke="#1a1a1a" stroke-width="0.2">(<tspan dx="0.9">70</tspan><tspan dx="0.9">)</tspan></text>
<g stroke="#c76fe8" stroke-width="1.5" fill="none"><line x1="563.5" y1="310.4" x2="598.7" y2="310.4"/><line x1="563.5" y1="308.4" x2="563.5" y2="312.4"/><line x1="598.7" y1="308.4" x2="598.7" y2="312.4"/></g>
<circle cx="580.8" cy="310.4" r="1.6" fill="#bb57e2"/>
<text transform="translate(601.2,312.95) scale(0.7,1)" font-size="9.8" fill="#1a1a1a" stroke="#1a1a1a" stroke-width="0.2">(<tspan dx="0.9">128</tspan><tspan dx="0.9">)</tspan></text>
<g stroke="#c76fe8" stroke-width="1.5" fill="none"><line x1="580.6" y1="321.79" x2="604" y2="321.79"/><line x1="580.6" y1="319.79" x2="580.6" y2="323.79"/><line x1="604" y1="319.79" x2="604" y2="323.79"/></g>
<circle cx="592.1" cy="321.79" r="1.6" fill="#bb57e2"/>
<text transform="translate(606.9,324.34) scale(0.7,1)" font-size="9.8" fill="#1a1a1a" stroke="#1a1a1a" stroke-width="0.2">(<tspan dx="0.9">24</tspan><tspan dx="0.9">)</tspan></text>
<g stroke="#c76fe8" stroke-width="1.5" fill="none"><line x1="575.3" y1="333.18" x2="612.8" y2="333.18"/><line x1="575.3" y1="331.18" x2="575.3" y2="335.18"/><line x1="612.8" y1="331.18" x2="612.8" y2="335.18"/></g>
<circle cx="594.2" cy="333.18" r="1.6" fill="#bb57e2"/>
<text transform="translate(616,335.73) scale(0.7,1)" font-size="9.8" fill="#1a1a1a" stroke="#1a1a1a" stroke-width="0.2">(<tspan dx="0.9">89</tspan><tspan dx="0.9">)</tspan></text>
<g stroke="#111" stroke-width="1.1" fill="none"><line x1="556.5" y1="350.2" x2="578.8" y2="350.2"/><line x1="556.5" y1="348.2" x2="556.5" y2="352.2"/><line x1="578.8" y1="348.2" x2="578.8" y2="352.2"/></g>
<circle cx="567.8" cy="350.2" r="1.6" fill="#000"/>
<text transform="translate(581.8,352.70) scale(0.7,1)" font-size="9.8" fill="#1a1a1a" stroke="#1a1a1a" stroke-width="0.2">(<tspan dx="0.9">343</tspan><tspan dx="0.9">)</tspan></text>
<g stroke="#111" stroke-width="1.1" fill="none"><line x1="561.7" y1="361.51" x2="585.4" y2="361.51"/><line x1="561.7" y1="359.51" x2="561.7" y2="363.51"/><line x1="585.4" y1="359.51" x2="585.4" y2="363.51"/></g>
<circle cx="573.6" cy="361.51" r="1.6" fill="#000"/>
<text transform="translate(588.9,364.01) scale(0.7,1)" font-size="9.8" fill="#1a1a1a" stroke="#1a1a1a" stroke-width="0.2">(<tspan dx="0.9">1995</tspan><tspan dx="0.9">)</tspan></text>
<g stroke="#111" stroke-width="1.1" fill="none"><line x1="546.2" y1="372.82" x2="551.4" y2="372.82"/><line x1="546.2" y1="370.82" x2="546.2" y2="374.82"/><line x1="551.4" y1="370.82" x2="551.4" y2="374.82"/></g>
<circle cx="549" cy="372.82" r="1.6" fill="#000"/>
<text transform="translate(555.2,375.32) scale(0.7,1)" font-size="9.8" fill="#1a1a1a" stroke="#1a1a1a" stroke-width="0.2">(<tspan dx="0.9">1288</tspan><tspan dx="0.9">)</tspan></text>
<g stroke="#111" stroke-width="1.1" fill="none"><line x1="563.5" y1="384.13" x2="566.8" y2="384.13"/><line x1="563.5" y1="382.13" x2="563.5" y2="386.13"/><line x1="566.8" y1="382.13" x2="566.8" y2="386.13"/></g>
<circle cx="565.3" cy="384.13" r="1.6" fill="#000"/>
<text transform="translate(570.3,386.63) scale(0.7,1)" font-size="9.8" fill="#1a1a1a" stroke="#1a1a1a" stroke-width="0.2">(<tspan dx="0.9">123</tspan><tspan dx="0.9">)</tspan></text>
<g stroke="#111" stroke-width="1.1" fill="none"><line x1="563.5" y1="395.44" x2="567.3" y2="395.44"/><line x1="563.5" y1="393.44" x2="563.5" y2="397.44"/><line x1="567.3" y1="393.44" x2="567.3" y2="397.44"/></g>
<circle cx="565.3" cy="395.44" r="1.6" fill="#000"/>
<text transform="translate(570.3,397.94) scale(0.7,1)" font-size="9.8" fill="#1a1a1a" stroke="#1a1a1a" stroke-width="0.2">(<tspan dx="0.9">78</tspan><tspan dx="0.9">)</tspan></text>
<path d="M678.0 10.4 H460.6 V403.3 H678.0" fill="none" stroke="#111" stroke-width="1.4" stroke-linecap="square"/>
<line x1="678.0" y1="10.4" x2="678.0" y2="403.3" stroke="#444" stroke-width="1.15"/>
<line x1="457.70000000000005" y1="20.4" x2="460.6" y2="20.4" stroke="#111" stroke-width="1.4"/>
<text x="433.10" y="24.70" textLength="23.1" lengthAdjust="spacingAndGlyphs" font-size="11.8" fill="#000" stroke="#000" stroke-width="0.15">Maize</text>
<line x1="457.70000000000005" y1="31.77" x2="460.6" y2="31.77" stroke="#111" stroke-width="1.4"/>
<text x="430.80" y="36.07" textLength="25.4" lengthAdjust="spacingAndGlyphs" font-size="11.8" fill="#000" stroke="#000" stroke-width="0.15">Patato</text>
<line x1="457.70000000000005" y1="43.14" x2="460.6" y2="43.14" stroke="#111" stroke-width="1.4"/>
<text x="429.60" y="47.44" textLength="26.6" lengthAdjust="spacingAndGlyphs" font-size="11.8" fill="#000" stroke="#000" stroke-width="0.15">Cotton</text>
<line x1="457.70000000000005" y1="54.51" x2="460.6" y2="54.51" stroke="#111" stroke-width="1.4"/>
<text x="416.80" y="58.81" textLength="39.4" lengthAdjust="spacingAndGlyphs" font-size="11.8" fill="#000" stroke="#000" stroke-width="0.15">Vegetable</text>
<line x1="457.70000000000005" y1="65.88" x2="460.6" y2="65.88" stroke="#111" stroke-width="1.4"/>
<text x="430.30" y="70.18" textLength="25.9" lengthAdjust="spacingAndGlyphs" font-size="11.8" fill="#000" stroke="#000" stroke-width="0.15">Wheat</text>
<line x1="457.70000000000005" y1="77.25" x2="460.6" y2="77.25" stroke="#111" stroke-width="1.4"/>
<text x="411.50" y="81.55" textLength="44.7" lengthAdjust="spacingAndGlyphs" font-size="11.8" fill="#000" stroke="#000" stroke-width="0.15">Leg/oilseed</text>
<line x1="457.70000000000005" y1="88.62" x2="460.6" y2="88.62" stroke="#111" stroke-width="1.4"/>
<text x="440.60" y="92.92" textLength="15.6" lengthAdjust="spacingAndGlyphs" font-size="11.8" fill="#000" stroke="#000" stroke-width="0.15">Rice</text>
<line x1="457.70000000000005" y1="105.75" x2="460.6" y2="105.75" stroke="#111" stroke-width="1.4"/>
<text x="441.90" y="110.05" textLength="14.3" lengthAdjust="spacingAndGlyphs" font-size="11.8" fill="#000" stroke="#000" stroke-width="0.15">&lt;15</text>
<line x1="457.70000000000005" y1="117.05" x2="460.6" y2="117.05" stroke="#111" stroke-width="1.4"/>
<text x="434.60" y="121.35" textLength="21.6" lengthAdjust="spacingAndGlyphs" font-size="11.8" fill="#000" stroke="#000" stroke-width="0.15">15-20</text>
<line x1="457.70000000000005" y1="128.35" x2="460.6" y2="128.35" stroke="#111" stroke-width="1.4"/>
<text x="441.60" y="132.65" textLength="14.6" lengthAdjust="spacingAndGlyphs" font-size="11.8" fill="#000" stroke="#000" stroke-width="0.15">&gt;20</text>
<line x1="457.70000000000005" y1="145.3" x2="460.6" y2="145.3" stroke="#111" stroke-width="1.4"/>
<text x="437.40" y="149.60" textLength="18.8" lengthAdjust="spacingAndGlyphs" font-size="11.8" fill="#000" stroke="#000" stroke-width="0.15">&lt;300</text>
<line x1="457.70000000000005" y1="156.8" x2="460.6" y2="156.8" stroke="#111" stroke-width="1.4"/>
<text x="424.00" y="161.10" textLength="32.2" lengthAdjust="spacingAndGlyphs" font-size="11.8" fill="#000" stroke="#000" stroke-width="0.15">300-500</text>
<line x1="457.70000000000005" y1="168.3" x2="460.6" y2="168.3" stroke="#111" stroke-width="1.4"/>
<text x="419.30" y="172.60" textLength="36.9" lengthAdjust="spacingAndGlyphs" font-size="11.8" fill="#000" stroke="#000" stroke-width="0.15">500-1000</text>
<line x1="457.70000000000005" y1="179.8" x2="460.6" y2="179.8" stroke="#111" stroke-width="1.4"/>
<text x="432.30" y="184.10" textLength="23.9" lengthAdjust="spacingAndGlyphs" font-size="11.8" fill="#000" stroke="#000" stroke-width="0.15">&gt;1000</text>
<line x1="457.70000000000005" y1="196.5" x2="460.6" y2="196.5" stroke="#111" stroke-width="1.4"/>
<text x="434.80" y="200.80" textLength="21.4" lengthAdjust="spacingAndGlyphs" font-size="11.8" fill="#000" stroke="#000" stroke-width="0.15">&gt;0.01</text>
<line x1="457.70000000000005" y1="207.89" x2="460.6" y2="207.89" stroke="#111" stroke-width="1.4"/>
<text transform="translate(426.0,212.79) scale(0.86,1)" font-size="11.2" fill="#000"><tspan font-family='"Noto Serif CJK SC","Liberation Sans",serif' font-size="11.2" dy="-0.8">≤</tspan><tspan dx="0.8" dy="0.8" stroke="#000" stroke-width="0.15">0.01</tspan></text>
<line x1="457.70000000000005" y1="219.28" x2="460.6" y2="219.28" stroke="#111" stroke-width="1.4"/>
<text x="446.40" y="223.58" textLength="9.8" lengthAdjust="spacingAndGlyphs" font-size="11.8" fill="#000" stroke="#000" stroke-width="0.15">50</text>
<line x1="457.70000000000005" y1="230.67" x2="460.6" y2="230.67" stroke="#111" stroke-width="1.4"/>
<text x="446.40" y="234.97" textLength="9.8" lengthAdjust="spacingAndGlyphs" font-size="11.8" fill="#000" stroke="#000" stroke-width="0.15">75</text>
<line x1="457.70000000000005" y1="242.06" x2="460.6" y2="242.06" stroke="#111" stroke-width="1.4"/>
<text x="442.40" y="246.36" textLength="13.8" lengthAdjust="spacingAndGlyphs" font-size="11.8" fill="#000" stroke="#000" stroke-width="0.15">100</text>
<line x1="457.70000000000005" y1="253.45" x2="460.6" y2="253.45" stroke="#111" stroke-width="1.4"/>
<text x="399.40" y="257.75" textLength="56.8" lengthAdjust="spacingAndGlyphs" font-size="11.8" fill="#000" stroke="#000" stroke-width="0.15">Biodegradable</text>
<line x1="457.70000000000005" y1="264.84" x2="460.6" y2="264.84" stroke="#111" stroke-width="1.4"/>
<text x="433.80" y="269.14" textLength="22.4" lengthAdjust="spacingAndGlyphs" font-size="11.8" fill="#000" stroke="#000" stroke-width="0.15">Straw</text>
<line x1="457.70000000000005" y1="276.23" x2="460.6" y2="276.23" stroke="#111" stroke-width="1.4"/>
<text x="430.80" y="280.53" textLength="25.4" lengthAdjust="spacingAndGlyphs" font-size="11.8" fill="#000" stroke="#000" stroke-width="0.15">Gravel</text>
<line x1="457.70000000000005" y1="287.62" x2="460.6" y2="287.62" stroke="#111" stroke-width="1.4"/>
<text x="431.60" y="291.92" textLength="24.6" lengthAdjust="spacingAndGlyphs" font-size="11.8" fill="#000" stroke="#000" stroke-width="0.15">Plastic</text>
<line x1="457.70000000000005" y1="299.01" x2="460.6" y2="299.01" stroke="#111" stroke-width="1.4"/>
<text x="442.60" y="303.31" textLength="13.6" lengthAdjust="spacingAndGlyphs" font-size="11.8" fill="#000" stroke="#000" stroke-width="0.15">Flat</text>
<line x1="457.70000000000005" y1="310.4" x2="460.6" y2="310.4" stroke="#111" stroke-width="1.4"/>
<text x="404.90" y="314.70" textLength="51.3" lengthAdjust="spacingAndGlyphs" font-size="11.8" fill="#000" stroke="#000" stroke-width="0.15">Ridge-furrow</text>
<line x1="457.70000000000005" y1="321.79" x2="460.6" y2="321.79" stroke="#111" stroke-width="1.4"/>
<text x="436.10" y="326.09" textLength="20.1" lengthAdjust="spacingAndGlyphs" font-size="11.8" fill="#000" stroke="#000" stroke-width="0.15">Black</text>
<line x1="457.70000000000005" y1="333.18" x2="460.6" y2="333.18" stroke="#111" stroke-width="1.4"/>
<text x="396.70" y="337.48" textLength="59.5" lengthAdjust="spacingAndGlyphs" font-size="11.8" fill="#000" stroke="#000" stroke-width="0.15">Transparent PE</text>
<line x1="457.70000000000005" y1="350.15" x2="460.6" y2="350.15" stroke="#111" stroke-width="1.4"/>
<text x="433.80" y="354.45" textLength="22.4" lengthAdjust="spacingAndGlyphs" font-size="11.8" fill="#000" stroke="#000" stroke-width="0.15">0-100</text>
<line x1="457.70000000000005" y1="361.46" x2="460.6" y2="361.46" stroke="#111" stroke-width="1.4"/>
<text x="424.00" y="365.76" textLength="32.2" lengthAdjust="spacingAndGlyphs" font-size="11.8" fill="#000" stroke="#000" stroke-width="0.15">100-200</text>
<line x1="457.70000000000005" y1="372.77" x2="460.6" y2="372.77" stroke="#111" stroke-width="1.4"/>
<text x="424.00" y="377.07" textLength="32.2" lengthAdjust="spacingAndGlyphs" font-size="11.8" fill="#000" stroke="#000" stroke-width="0.15">200-300</text>
<line x1="457.70000000000005" y1="384.08" x2="460.6" y2="384.08" stroke="#111" stroke-width="1.4"/>
<text x="424.00" y="388.38" textLength="32.2" lengthAdjust="spacingAndGlyphs" font-size="11.8" fill="#000" stroke="#000" stroke-width="0.15">300-400</text>
<line x1="457.70000000000005" y1="395.39" x2="460.6" y2="395.39" stroke="#111" stroke-width="1.4"/>
<text x="437.40" y="399.69" textLength="18.8" lengthAdjust="spacingAndGlyphs" font-size="11.8" fill="#000" stroke="#000" stroke-width="0.15">&gt;400</text>
<text x="451.60" y="418.2" textLength="17.0" lengthAdjust="spacingAndGlyphs" font-size="12" fill="#111" stroke="#111" stroke-width="0.15">-100</text>
<line x1="514.85" y1="403.3" x2="514.85" y2="399.7" stroke="#111" stroke-width="1.1199999999999999"/>
<text x="508.25" y="418.2" textLength="12.4" lengthAdjust="spacingAndGlyphs" font-size="12" fill="#111" stroke="#111" stroke-width="0.15">-50</text>
<line x1="569.2" y1="403.3" x2="569.2" y2="399.7" stroke="#111" stroke-width="1.1199999999999999"/>
<text x="566.40" y="418.2" textLength="4.8" lengthAdjust="spacingAndGlyphs" font-size="12" fill="#111" stroke="#111" stroke-width="0.15">0</text>
<line x1="623.5500000000001" y1="403.3" x2="623.5500000000001" y2="399.7" stroke="#111" stroke-width="1.1199999999999999"/>
<text x="618.25" y="418.2" textLength="9.8" lengthAdjust="spacingAndGlyphs" font-size="12" fill="#111" stroke="#111" stroke-width="0.15">50</text>
<text x="670.60" y="418.2" textLength="13.8" lengthAdjust="spacingAndGlyphs" font-size="12" fill="#111" stroke="#111" stroke-width="0.15">100</text>
<text transform="translate(-0.6,15) scale(0.88,1)" font-size="19.6" font-weight="bold" fill="#000">a</text>
<text transform="translate(356.2,15) scale(0.86,1)" font-size="21" font-weight="bold" fill="#000">b</text>
<text transform="translate(16.0,59.5) scale(0.86,1) rotate(-45)" text-anchor="middle" font-size="11.6" font-weight="normal" fill="#f4ab6e" stroke="#f4ab6e" stroke-width="0.3">CH<tspan font-size="8.5">4</tspan></text>
<text transform="translate(19.0,133.5) scale(0.86,1) rotate(-45)" text-anchor="middle" font-size="11.6" font-weight="normal" fill="#ff7474" stroke="#ff7474" stroke-width="0.3">CO<tspan font-size="8.5">2</tspan></text>
<text transform="translate(15.4,228.3) scale(0.86,1) rotate(-45)" text-anchor="middle" font-size="11.2" font-weight="bold" fill="#4b98f6" stroke="#4b98f6" stroke-width="0.1">N<tspan font-size="8.5">2</tspan>O</text>
<text transform="translate(15.6,339.5) scale(0.86,1) rotate(-45)" text-anchor="middle" font-size="11.6" font-weight="bold" fill="#000" stroke="#000" stroke-width="0.25">SOC</text>
<text transform="translate(368.3,68.8) scale(0.725,1) rotate(-45) translate(0.0,0.0)" font-size="13.2" font-weight="bold" fill="#f4ab6e" stroke="#f4ab6e" stroke-width="0.15">Crop</text>
<text transform="translate(360.5,130) scale(0.725,1) rotate(-45) translate(-0.0,0.0)" font-size="13.2" font-weight="bold" fill="#ff7474" stroke="#ff7474" stroke-width="0.15">Annual air T</text>
<text transform="translate(360.5,130) scale(0.725,1) rotate(-45) translate(-5.0,13.7)" font-size="13.2" font-weight="bold" fill="#ff7474" stroke="#ff7474" stroke-width="0.15">(°C)</text>
<text transform="translate(356.8,190.2) scale(0.725,1) rotate(-45) translate(0.0,0.0)" font-size="13.2" font-weight="bold" fill="#10c47c" stroke="#10c47c" stroke-width="0.15">Annual prec.</text>
<text transform="translate(356.8,190.2) scale(0.725,1) rotate(-45) translate(0.4,13.7)" font-size="13.2" font-weight="bold" fill="#10c47c" stroke="#10c47c" stroke-width="0.15">(mm)</text>
<text transform="translate(355,293.4) scale(0.725,1) rotate(-45) translate(-0.0,0.0)" font-size="13.5" font-weight="bold" fill="#c05fe4" stroke="#c05fe4" stroke-width="0.15">Soil mulching</text>
<text transform="translate(355,293.4) scale(0.725,1) rotate(-45) translate(-0.5,14.6)" font-size="13.5" font-weight="bold" fill="#c05fe4" stroke="#c05fe4" stroke-width="0.15">practices</text>
<text transform="translate(358.2,390.5) scale(0.725,1) rotate(-45) translate(0.0,0.0)" font-size="13.2" font-weight="bold" fill="#000" stroke="#000" stroke-width="0.35">N fert. appl.</text>
<text transform="translate(358.2,390.5) scale(0.725,1) rotate(-45) translate(0.0,13.7)" font-size="13.2" font-weight="bold" fill="#000" stroke="#000" stroke-width="0.35">(kg ha-1)</text>
<text y="441.7" font-size="13.3" fill="#111" stroke="#111" stroke-width="0.2"><tspan x="24.2" textLength="43.8" lengthAdjust="spacingAndGlyphs">Percent</tspan> <tspan x="71.9" textLength="64.4" lengthAdjust="spacingAndGlyphs">differences</tspan> <tspan x="140.2" textLength="18.7" lengthAdjust="spacingAndGlyphs">(%)</tspan> <tspan x="162.8" textLength="10.7" lengthAdjust="spacingAndGlyphs">in</tspan> <tspan x="177.4" textLength="15.4" lengthAdjust="spacingAndGlyphs">(<tspan font-weight="bold">a</tspan>)</tspan> <tspan x="196.0" textLength="27.4" lengthAdjust="spacingAndGlyphs">GHG</tspan> <tspan x="227.4" textLength="57.1" lengthAdjust="spacingAndGlyphs">emissions</tspan> <tspan x="288.1" textLength="20.2" lengthAdjust="spacingAndGlyphs">and</tspan> <tspan x="312.2" textLength="27.9" lengthAdjust="spacingAndGlyphs">SOC,</tspan> <tspan x="344.2" textLength="21.2" lengthAdjust="spacingAndGlyphs">and</tspan> <tspan x="369.3" textLength="16.2" lengthAdjust="spacingAndGlyphs">(<tspan font-weight="bold">b</tspan>)</tspan> <tspan x="389.4" textLength="8.6" lengthAdjust="spacingAndGlyphs">N</tspan> <tspan x="402.0" textLength="34.2" lengthAdjust="spacingAndGlyphs">losses</tspan> <tspan x="440.1" textLength="10.7" lengthAdjust="spacingAndGlyphs">in</tspan> <tspan x="454.7" textLength="52.9" lengthAdjust="spacingAndGlyphs">response</tspan> <tspan x="511.7" textLength="11.2" lengthAdjust="spacingAndGlyphs">to</tspan> <tspan x="526.8" textLength="25.7" lengthAdjust="spacingAndGlyphs">crop</tspan> <tspan x="556.4" textLength="42.3" lengthAdjust="spacingAndGlyphs">species</tspan> <tspan x="602.6" textLength="21.2" lengthAdjust="spacingAndGlyphs">and</tspan> <tspan x="627.7" textLength="45.8" lengthAdjust="spacingAndGlyphs">climatic</tspan></text>
<text y="458.7" font-size="13.3" fill="#111" stroke="#111" stroke-width="0.2"><tspan x="147.2" textLength="39.4" lengthAdjust="spacingAndGlyphs">factors</tspan> <tspan x="190.9" textLength="52.1" lengthAdjust="spacingAndGlyphs">between</tspan> <tspan x="246.9" textLength="91.4" lengthAdjust="spacingAndGlyphs">plastic-mulched</tspan> <tspan x="342.4" textLength="21.2" lengthAdjust="spacingAndGlyphs">and</tspan> <tspan x="367.5" textLength="78.0" lengthAdjust="spacingAndGlyphs">non-mulched</tspan> <tspan x="449.1" textLength="51.1" lengthAdjust="spacingAndGlyphs">cropping</tspan> <tspan x="504.1" textLength="45.9" lengthAdjust="spacingAndGlyphs">systems</tspan></text>
</svg>
</body>
</html>
